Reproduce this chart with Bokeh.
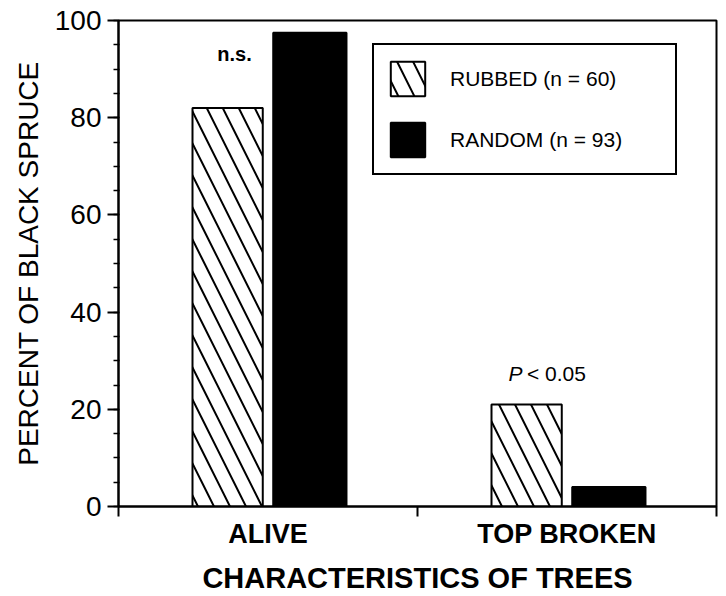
from bokeh.plotting import figure
from bokeh.models import (ColumnDataSource, Range1d, FixedTicker, SingleIntervalTicker,
                          Legend, LegendItem, Label)
from bokeh.transform import dodge
from bokeh.embed import file_html
from bokeh.resources import INLINE

# ---- data ----
categories = ["ALIVE", "TOP BROKEN"]
rubbed = [82, 21]
random_trees = [97.5, 4]
series_labels = ["RUBBED (n = 60)", "RANDOM (n = 93)"]
y_ticks = [0, 20, 40, 60, 80, 100]

FONT = "Liberation Sans"

centers = [i + 0.5 for i in range(len(categories))]
boundaries = [float(i) for i in range(len(categories) + 1)]
src = ColumnDataSource(data=dict(center=centers, cat=categories,
                                 rubbed=rubbed, random=random_trees))

p = figure(width=726, height=596, output_backend="svg", toolbar_location=None,
           x_range=Range1d(0, len(categories)), y_range=Range1d(y_ticks[0], y_ticks[-1]),
           min_border_left=118, min_border_right=10, min_border_top=20, min_border_bottom=90,
           background_fill_color="white", border_fill_color="white")

p.xgrid.visible = False
p.ygrid.visible = False
p.outline_line_color = "black"
p.outline_line_width = 2

r1 = p.vbar(x=dodge("center", -0.135, range=p.x_range), top="rubbed", width=0.235, source=src,
            fill_color="white", line_color="black", line_width=2,
            hatch_pattern="left_diagonal_line", hatch_color="black",
            hatch_scale=32, hatch_weight=2)
r2 = p.vbar(x=dodge("center", 0.14, range=p.x_range), top="random", width=0.245, source=src,
            fill_color="black", line_color="black", line_width=2)

# axes
xa = p.xaxis[0]
xa.ticker = FixedTicker(ticks=centers, minor_ticks=boundaries)
xa.major_label_overrides = {c: lab for c, lab in zip(centers, categories)}
xa.major_tick_line_color = None
xa.minor_tick_line_color = "black"
xa.minor_tick_line_width = 2
xa.minor_tick_out = 10
xa.minor_tick_in = 0
xa.axis_line_width = 2
xa.major_label_text_font = FONT
xa.major_label_text_font_size = "27px"
xa.major_label_text_font_style = "bold"
xa.major_label_text_color = "black"
xa.major_label_standoff = 2
xa.axis_label = "CHARACTERISTICS OF TREES"
xa.axis_label_text_font = FONT
xa.axis_label_text_font_size = "29px"
xa.axis_label_text_font_style = "bold"
xa.axis_label_text_color = "black"
xa.axis_label_standoff = 10

ya = p.yaxis[0]
ya.ticker = SingleIntervalTicker(interval=20, num_minor_ticks=4)
ya.axis_line_width = 2
ya.major_tick_line_width = 2
ya.major_tick_out = 11
ya.major_tick_in = 0
ya.minor_tick_line_width = 1.5
ya.minor_tick_out = 5
ya.minor_tick_in = 1
ya.major_label_text_font = FONT
ya.major_label_text_font_size = "28px"
ya.major_label_text_color = "black"
ya.major_label_standoff = 6
ya.axis_label = "PERCENT OF BLACK SPRUCE"
ya.axis_label_text_font = FONT
ya.axis_label_text_font_size = "28px"
ya.axis_label_text_font_style = "normal"
ya.axis_label_text_color = "black"
ya.axis_label_standoff = 8

# legend
legend = Legend(items=[LegendItem(label=series_labels[0], renderers=[r1]),
                       LegendItem(label=series_labels[1], renderers=[r2])],
                location=(254, 331), orientation="vertical",
                glyph_width=43, glyph_height=43, label_standoff=21, spacing=18,
                padding=12, margin=0, label_width=213,
                label_text_font=FONT, label_text_font_size="21px", label_text_color="black",
                border_line_color="black", border_line_width=2, border_line_alpha=1,
                background_fill_color="white", background_fill_alpha=1)
p.add_layout(legend, "center")

# annotations
p.add_layout(Label(x=0.388, y=93.2, text="n.s.", text_align="center",
                   text_baseline="alphabetic", text_font=FONT, text_font_size="20px",
                   text_font_style="bold", text_color="black"))
p.add_layout(Label(x=1.304, y=27.4, text="P", text_align="left",
                   text_baseline="alphabetic", text_font=FONT, text_font_size="21px",
                   text_font_style="italic", text_color="black"))
p.add_layout(Label(x=1.366, y=27.4, text="< 0.05", text_align="left",
                   text_baseline="alphabetic", text_font=FONT, text_font_size="21px",
                   text_color="black"))

open("out.html", "w").write(file_html(p, INLINE))
